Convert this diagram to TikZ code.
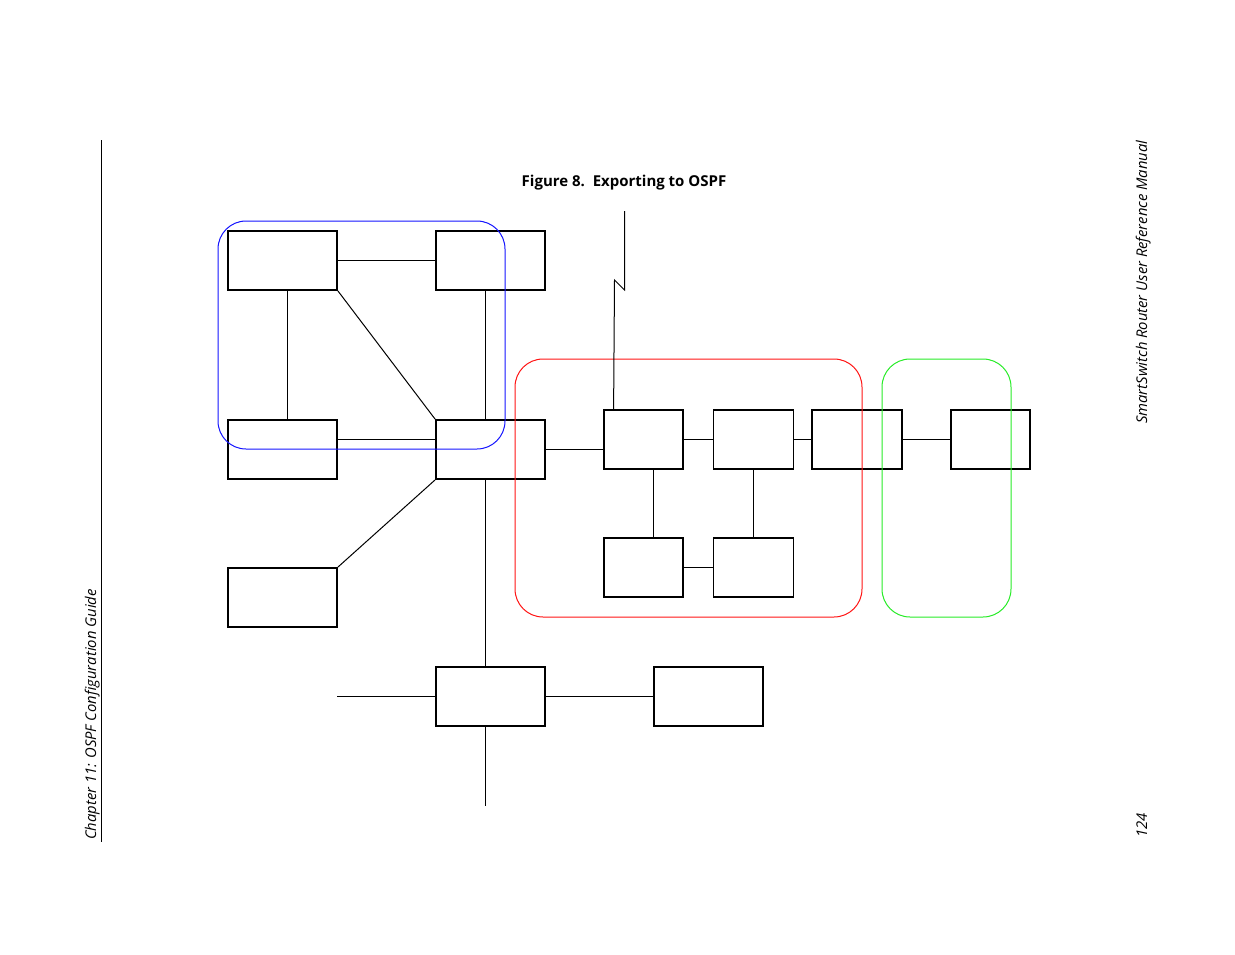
\documentclass[tikz,border=0pt]{standalone}
\usepackage{fontspec}
\setmainfont{Open Sans}
\usetikzlibrary{calc}
\definecolor{areablue}{RGB}{20,20,255}
\definecolor{areared}{RGB}{255,20,20}
\definecolor{areagreen}{RGB}{40,235,40}
\tikzset{
  rtr/.style={shape=rectangle,draw,line width=1.8,inner sep=0,minimum width=109,minimum height=59},
  sw/.style={shape=rectangle,draw,line width=1.8,inner sep=0,minimum width=79,minimum height=59},
  link/.style={line width=1},
  area/.style={line width=1,rounded corners=28},
  head/.style={rotate=90,anchor=base west,inner sep=0,font=\fontsize{14.8}{17}\selectfont\itshape}
}
\begin{document}
\begin{tikzpicture}[x=1pt,y=-1pt]
\useasboundingbox (0,0) rectangle (1235,954);
% page margins and running heads
\draw[line width=1] (101,140) -- (101,842);
\node[head](chap) at (96,840){Chapter 11: OSPF Configuration Guide};
\node[head](man) at (1147,424){SmartSwitch Router User Reference Manual};
\node[head](page) at (1147,838){124};
\node[anchor=base,inner sep=0,font=\fontsize{15}{18}\selectfont\bfseries](title) at (624,186){Figure 8.\ \ Exporting to OSPF};
% routers
\node[rtr](A) at (282.5,260.5){};
\node[rtr](B) at (490.5,260.5){};
\node[rtr](C) at (282.5,449.5){};
\node[rtr](D) at (490.5,449.5){};
\node[rtr](E) at (282.5,597.5){};
\node[rtr](F) at (490.5,696.5){};
\node[rtr](G) at (708.5,696.5){};
\node[sw](R1) at (643.5,439.5){};
\node[sw,minimum width=80](R2) at (753.5,439.5){};
\node[sw,minimum width=90](R3) at (857,439.5){};
\node[sw](R4) at (990.5,439.5){};
\node[sw](R5) at (643.5,567.5){};
\node[sw,minimum width=80](R6) at (753.5,567.5){};
% areas
\draw[area,areablue] (218,221) rectangle (505,449);
\draw[area,areared] (515,359) rectangle (862,617);
\draw[area,areagreen] (882,359) rectangle (1011,617);
% links
\draw[link] (A) -- (B);
\draw[link] ($(A.south)+(5,0)$) -- ($(C.north)+(5,0)$);
\draw[link] (A.south east) -- (D.north west);
\draw[link] ($(B.south)+(-5,0)$) -- ($(D.north)+(-5,0)$);
\draw[link] ($(C.east)+(0,-10)$) -- ($(D.west)+(0,-10)$);
\draw[link] (D.east) -- (D.east -| R1.west);
\draw[link] (D.south west) -- (E.north east);
\draw[link] ($(D.south)+(-5,0)$) -- ($(F.north)+(-5,0)$);
\draw[link] (F) -- (G);
\coordinate (lanW) at (337,696.5);
\coordinate (lanS) at (485.5,806);
\draw[link] (lanW) -- (F.west);
\draw[link] ($(F.south)+(-5,0)$) -- (lanS);
\draw[link] (R1) -- (R2);
\draw[link] (R2.east) -- ($(R3.west)+(1.5,0)$);
\draw[link] (R3) -- (R4);
\draw[link] ($(R1.south)+(10,0)$) -- ($(R5.north)+(10,0)$);
\draw[link] (R2) -- (R6);
\draw[link] (R5) -- (R6);
% wan link
\coordinate (wan) at (624.5,211);
\draw[link] (wan) -- ++(0,79) -- ++(-10,-10) -- ($(R1.north west)+(10.5,0)$);
\end{tikzpicture}
\end{document}
